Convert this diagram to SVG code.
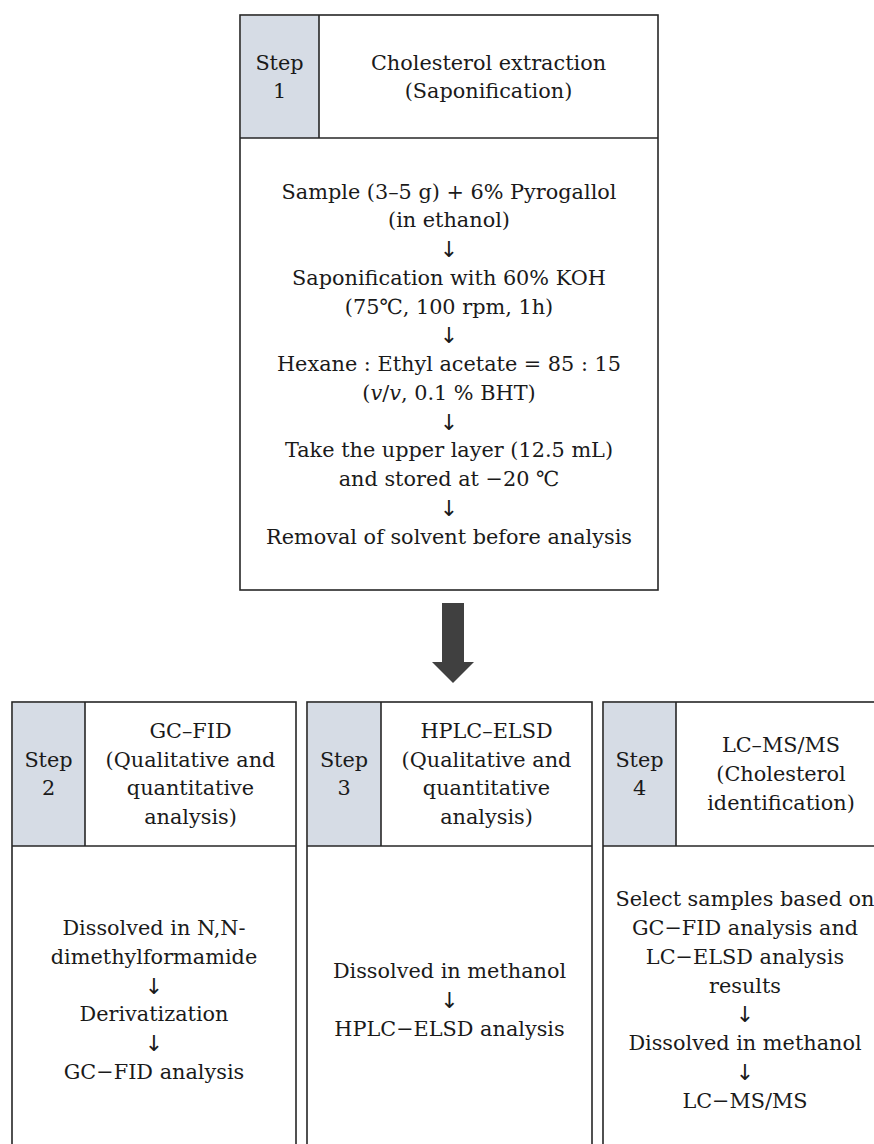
<svg xmlns="http://www.w3.org/2000/svg" width="874" height="1144" viewBox="0 0 874 1144">
<style>
.box{fill:#ffffff;stroke:#262626;stroke-width:1.6}
.step{fill:#d6dce5;stroke:none}
.div{stroke:#262626;stroke-width:1.6}
text{font-family:"DejaVu Serif","Liberation Serif",serif;font-size:20.8px;fill:#1a1a1a;text-anchor:middle}
.ar{font-family:"DejaVu Sans",sans-serif;font-size:22px;fill:#1a1a1a}
</style>
<rect width="874" height="1144" fill="#ffffff"/>

<g id="step1">
<rect class="box" x="240" y="15" width="418" height="575"/>
<rect class="step" x="241" y="16" width="78" height="122"/>
<line class="div" x1="240" y1="138" x2="658" y2="138"/>
<line class="div" x1="319" y1="15" x2="319" y2="138"/>
<text x="279.5" y="69.5">Step</text>
<text x="279.5" y="98">1</text>
<text x="488.5" y="69.5">Cholesterol extraction</text>
<text x="488.5" y="98">(Saponification)</text>
<text x="449" y="198.5">Sample (3–5 g) + 6% Pyrogallol</text>
<text x="449" y="227.2">(in ethanol)</text>
<text class="ar" x="449" y="257">↓</text>
<text x="449" y="284.8">Saponification with 60% KOH</text>
<text x="449" y="313.5">(75℃, 100 rpm, 1h)</text>
<text class="ar" x="449" y="343.3">↓</text>
<text x="449" y="371">Hexane : Ethyl acetate = 85 : 15</text>
<text x="449" y="399.8">(<tspan font-style="italic">v</tspan>/<tspan font-style="italic">v</tspan>, 0.1 % BHT)</text>
<text class="ar" x="449" y="429.5">↓</text>
<text x="449" y="457.3">Take the upper layer (12.5 mL)</text>
<text x="449" y="486">and stored at −20 ℃</text>
<text class="ar" x="449" y="515.8">↓</text>
<text x="449" y="543.5">Removal of solvent before analysis</text>
</g>

<g id="connectors">
<polygon points="442,603 464,603 464,662 474,662 453,683 432,662 442,662" fill="#404040"/>
</g>

<g id="step2">
<rect class="box" x="12" y="702" width="284" height="460"/>
<rect class="step" x="13" y="703" width="72" height="143"/>
<line class="div" x1="12" y1="846" x2="296" y2="846"/>
<line class="div" x1="85" y1="702" x2="85" y2="846"/>
<text x="48.5" y="766.6">Step</text>
<text x="48.5" y="795.4">2</text>
<text x="190.5" y="738">GC–FID</text>
<text x="190.5" y="766.6">(Qualitative and</text>
<text x="190.5" y="795.4">quantitative</text>
<text x="190.5" y="824">analysis)</text>
<text x="154" y="935">Dissolved in N,N-</text>
<text x="154" y="963.7">dimethylformamide</text>
<text class="ar" x="154" y="993.5">↓</text>
<text x="154" y="1021.2">Derivatization</text>
<text class="ar" x="154" y="1051">↓</text>
<text x="154" y="1078.7">GC−FID analysis</text>
</g>

<g id="step3">
<rect class="box" x="307" y="702" width="285" height="460"/>
<rect class="step" x="308" y="703" width="73" height="143"/>
<line class="div" x1="307" y1="846" x2="592" y2="846"/>
<line class="div" x1="381" y1="702" x2="381" y2="846"/>
<text x="344" y="766.6">Step</text>
<text x="344" y="795.4">3</text>
<text x="486.5" y="738">HPLC–ELSD</text>
<text x="486.5" y="766.6">(Qualitative and</text>
<text x="486.5" y="795.4">quantitative</text>
<text x="486.5" y="824">analysis)</text>
<text x="449.5" y="978.3">Dissolved in methanol</text>
<text class="ar" x="449.5" y="1008">↓</text>
<text x="449.5" y="1035.8">HPLC−ELSD analysis</text>
</g>

<g id="step4">
<rect class="box" x="603" y="702" width="284" height="460"/>
<rect class="step" x="604" y="703" width="72" height="143"/>
<line class="div" x1="603" y1="846" x2="887" y2="846"/>
<line class="div" x1="676" y1="702" x2="676" y2="846"/>
<text x="639.5" y="766.6">Step</text>
<text x="639.5" y="795.4">4</text>
<text x="781" y="752.3">LC–MS/MS</text>
<text x="781" y="781">(Cholesterol</text>
<text x="781" y="809.8">identification)</text>
<text x="745" y="906.4">Select samples based on</text>
<text x="745" y="935.1">GC−FID analysis and</text>
<text x="745" y="963.9">LC−ELSD analysis</text>
<text x="745" y="992.6">results</text>
<text class="ar" x="745" y="1022.4">↓</text>
<text x="745" y="1050.1">Dissolved in methanol</text>
<text class="ar" x="745" y="1079.9">↓</text>
<text x="745" y="1107.6">LC−MS/MS</text>
</g>
</svg>
